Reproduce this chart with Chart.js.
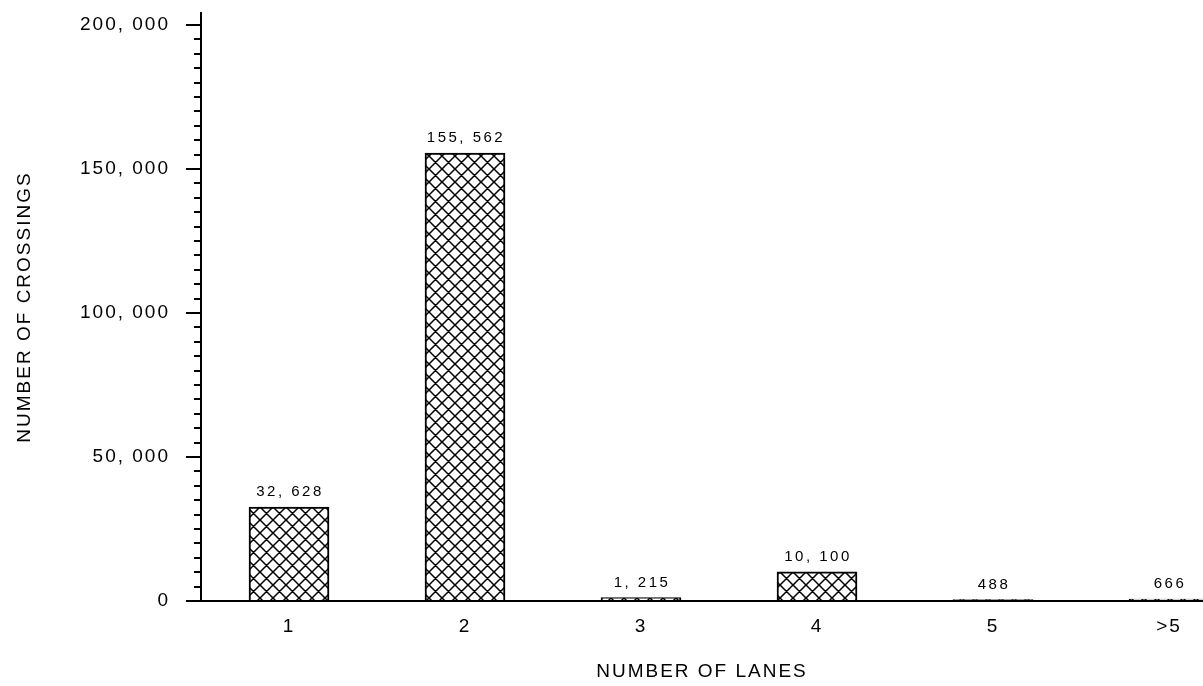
<!DOCTYPE html>
<html>
<head>
<meta charset="utf-8">
<script src="https://cdn.jsdelivr.net/npm/chart.js@4/dist/chart.umd.min.js"></script>
<style>
  html, body { margin: 0; padding: 0; background: #fff; }
  canvas { display: block; }
</style>
</head>
<body>
<canvas id="c" width="1203" height="686"></canvas>
<script>
// ---- data ----
const categories = ['1', '2', '3', '4', '5', '>5'];
const crossings = [32628, 155562, 1215, 10100, 488, 666];
const yMajorTicks = [0, 50000, 100000, 150000, 200000];
const yMinorStep = 5000;
const xTitle = 'NUMBER OF LANES';
const yTitle = 'NUMBER OF CROSSINGS';

const fmt = v => Number(v).toLocaleString('en-US').replace(/,/g, ', ');
const FONT = "'Liberation Sans', Arial, sans-serif";

function hatchPattern() {
  const s = 13;
  const c = document.createElement('canvas');
  c.width = s; c.height = s;
  const g = c.getContext('2d');
  g.fillStyle = '#fff';
  g.fillRect(0, 0, s, s);
  g.strokeStyle = '#000';
  g.lineWidth = 1.5;
  g.beginPath();
  for (const k of [-s, 0, s]) {
    g.moveTo(-2, -2 + k); g.lineTo(s + 2, s + 2 + k);
    g.moveTo(-2, s + 2 + k); g.lineTo(s + 2, -2 + k);
  }
  g.stroke();
  return g.createPattern(c, 'repeat');
}

const textSpacing = {
  id: 'textSpacing',
  beforeDraw(chart) { chart.ctx.letterSpacing = '2px'; }
};

const minorTicks = {
  id: 'minorTicks',
  afterDraw(chart) {
    const y = chart.scales.y, ctx = chart.ctx;
    ctx.save();
    ctx.strokeStyle = '#000';
    ctx.lineWidth = 2;
    ctx.beginPath();
    for (let v = 0; v <= y.max; v += yMinorStep) {
      if (yMajorTicks.includes(v)) continue;
      const py = Math.round(y.getPixelForValue(v));
      ctx.moveTo(y.right - 7, py);
      ctx.lineTo(y.right, py);
    }
    ctx.stroke();
    ctx.restore();
  }
};

const valueLabels = {
  id: 'valueLabels',
  afterDatasetsDraw(chart) {
    const ctx = chart.ctx;
    const meta = chart.getDatasetMeta(0);
    ctx.save();
    ctx.letterSpacing = '2.5px';
    ctx.font = '15px ' + FONT;
    ctx.fillStyle = '#000';
    ctx.textAlign = 'center';
    ctx.textBaseline = 'alphabetic';
    meta.data.forEach((bar, i) => {
      ctx.fillText(fmt(crossings[i]), bar.x + 1, bar.y - 11);
    });
    ctx.restore();
  }
};

new Chart(document.getElementById('c'), {
  type: 'bar',
  data: {
    datasets: [{
      data: crossings.map((v, i) => ({ x: i + 1, y: v })),
      backgroundColor: hatchPattern(),
      borderColor: '#000',
      borderWidth: 2,
      barThickness: 80
    }]
  },
  options: {
    responsive: false,
    animation: false,
    devicePixelRatio: 1,
    layout: { padding: { left: 0, right: 0, top: 13, bottom: 0 } },
    plugins: { legend: { display: false }, tooltip: { enabled: false } },
    scales: {
      x: {
        type: 'linear',
        offset: false,
        min: 0.5,
        max: 0.5 + 1002 / 176,
        afterBuildTicks: s => { s.ticks = categories.map((c, i) => ({ value: i + 1 })); },
        afterFit: s => { s.height = 85; s.paddingLeft = 0; s.paddingRight = 0; },
        grid: { display: false, drawTicks: false, offset: false },
        border: { display: true, color: '#000', width: 2 },
        ticks: {
          autoSkip: false,
          maxRotation: 0,
          padding: 14,
          color: '#000',
          font: { family: FONT, size: 19 },
          callback: v => categories[Math.round(v) - 1] ?? ''
        },
        title: {
          display: true,
          text: xTitle,
          color: '#000',
          font: { family: FONT, size: 19 },
          padding: { top: 0, bottom: 3 }
        }
      },
      y: {
        type: 'linear',
        min: 0,
        max: 204166,
        afterBuildTicks: s => { s.ticks = yMajorTicks.map(v => ({ value: v })); },
        afterFit: s => { s.width = 201; s.paddingTop = 0; s.paddingBottom = 0; },
        grid: {
          display: true,
          drawOnChartArea: false,
          drawTicks: true,
          tickLength: 15,
          color: '#000',
          lineWidth: 2
        },
        border: { display: true, color: '#000', width: 2 },
        ticks: {
          padding: 16,
          color: '#000',
          font: { family: FONT, size: 19 },
          callback: v => fmt(v)
        },
        title: {
          display: true,
          text: yTitle,
          color: '#000',
          font: { family: FONT, size: 19 },
          padding: { top: 13, bottom: 0 }
        }
      }
    }
  },
  plugins: [textSpacing, minorTicks, valueLabels]
});
</script>
</body>
</html>
